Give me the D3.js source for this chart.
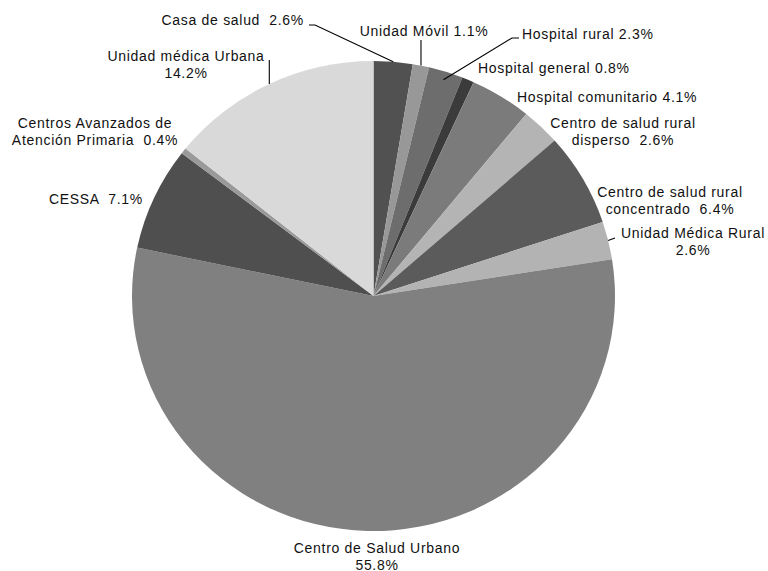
<!DOCTYPE html>
<html>
<head>
<meta charset="utf-8">
<script src="https://cdn.jsdelivr.net/npm/d3@7"></script>
<style>
  html, body { margin: 0; padding: 0; background: #fff; }
  svg text { font-family: "Liberation Sans", Arial, sans-serif; font-size: 14px; letter-spacing: 0.7px; fill: #111; white-space: pre; }
</style>
</head>
<body>
<svg id="chart" width="768" height="571"></svg>
<script>
// Unit types and their share (%) of the total
const categories = [
  "Casa de salud", "Unidad Móvil", "Hospital rural", "Hospital general",
  "Hospital comunitario", "Centro de salud rural disperso",
  "Centro de salud rural concentrado", "Unidad Médica Rural",
  "Centro de Salud Urbano", "CESSA", "Centros Avanzados de Atención Primaria",
  "Unidad médica Urbana"
];
const values = [2.6, 1.1, 2.3, 0.8, 4.1, 2.6, 6.4, 2.6, 55.8, 7.1, 0.4, 14.2];
const colors = [
  "#515151", "#989898", "#6d6d6d", "#3b3b3b", "#7b7b7b", "#b4b4b4",
  "#5b5b5b", "#b3b3b3", "#808080", "#4f4f4f", "#9a9a9a", "#d9d9d9"
];

// Label placement: anchor point, alignment, words on the first line (0 = single line),
// separator before the percentage, and optional leader line style
const labelLayout = [
  { x: 304, y: 25,  anchor: "end",    wrap: 0, sep: "  ", leader: { pts: [[309, 25], [315, 25]] } },
  { x: 424, y: 36,  anchor: "middle", wrap: 0, sep: " ",  leader: { vertical: 40 } },
  { x: 522, y: 39,  anchor: "start",  wrap: 0, sep: " ",  leader: { pts: [[519, 38], [512, 38]], k: 0.965 } },
  { x: 478, y: 73,  anchor: "start",  wrap: 0, sep: " " },
  { x: 517, y: 102, anchor: "start",  wrap: 0, sep: " " },
  { x: 623, y: 128, anchor: "middle", wrap: 4, sep: "  " },
  { x: 670, y: 197, anchor: "middle", wrap: 4, sep: "  " },
  { x: 693, y: 238, anchor: "middle", wrap: 3, sep: "",  newline: true, leader: { pts: [[615, 238]] } },
  { x: 377, y: 553, anchor: "middle", wrap: 4, sep: "",  newline: true },
  { x: 143, y: 204, anchor: "end",    wrap: 0, sep: "  " },
  { x: 95,  y: 128, anchor: "middle", wrap: 3, sep: "  " },
  { x: 186, y: 61,  anchor: "middle", wrap: 3, sep: "",  newline: true, leader: { vertical: 60 } }
];

const lineHeight = 16.5;
const cx = 373.5, cy = 296;
const ry = 235, rx = 241.5;
const sx = rx / ry;

const data = categories.map((c, i) => ({ name: c, value: values[i], color: colors[i] }));

const svg = d3.select("#chart");
const pie = d3.pie().sort(null).value(d => d.value);
const arcs = pie(data);
const arc = d3.arc().innerRadius(0).outerRadius(ry);

const g = svg.append("g").attr("transform", `translate(${cx},${cy}) scale(${sx},1)`);
g.selectAll("path")
  .data(arcs)
  .join("path")
  .attr("d", arc)
  .attr("fill", d => d.data.color);

// Point on the (slightly elliptical) pie rim at a slice's mid-angle
function rimPoint(a, k = 1) {
  const t = (a.startAngle + a.endAngle) / 2;
  return [cx + rx * k * Math.sin(t), cy - ry * k * Math.cos(t)];
}

const fmt = v => v.toFixed(1) + "%";
const labels = svg.append("g");
const leaders = svg.append("g").attr("fill", "none").attr("stroke", "#000").attr("stroke-width", 1.1);

arcs.forEach((a, i) => {
  const L = labelLayout[i];
  const words = a.data.name.split(" ");
  let lines;
  if (L.wrap === 0) {
    lines = [a.data.name + L.sep + fmt(a.data.value)];
  } else if (L.newline) {
    lines = [words.slice(0, L.wrap).join(" "), fmt(a.data.value)];
  } else {
    lines = [words.slice(0, L.wrap).join(" "), words.slice(L.wrap).join(" ") + L.sep + fmt(a.data.value)];
  }
  const t = labels.append("text")
    .attr("text-anchor", L.anchor)
    .attr("x", L.x).attr("y", L.y);
  lines.forEach((s, j) => {
    t.append("tspan").attr("x", L.x).attr("y", L.y + j * lineHeight).text(s);
  });

  if (L.leader) {
    const end = rimPoint(a, L.leader.k || 1);
    let pts;
    if (L.leader.vertical !== undefined) pts = [[end[0], L.leader.vertical], end];
    else pts = [...L.leader.pts, end];
    leaders.append("path").attr("d", d3.line()(pts));
  }
});
</script>
</body>
</html>
